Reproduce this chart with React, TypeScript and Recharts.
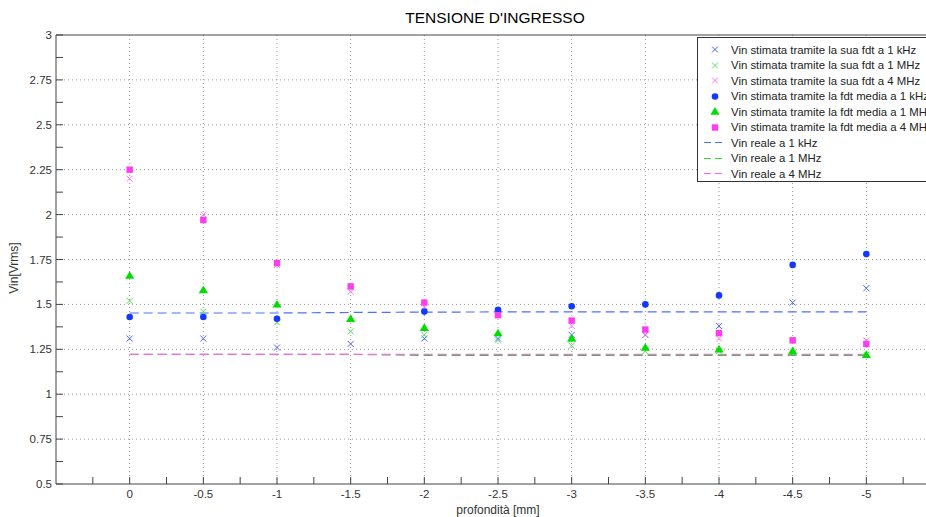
import React from 'react';
import { ComposedChart, Scatter, Line, XAxis, YAxis, CartesianGrid, Label } from 'recharts';

// profondità [mm]
const DEPTH = [0, -0.5, -1, -1.5, -2, -2.5, -3, -3.5, -4, -4.5, -5];

// Vin stimata tramite la sua fdt
const SUA_1K = [1.31, 1.31, 1.26, 1.28, 1.31, 1.31, 1.33, 1.33, 1.38, 1.51, 1.59];
const SUA_1M = [1.52, 1.46, 1.4, 1.35, 1.33, 1.3, 1.27, 1.24, 1.24, 1.23, 1.22];
const SUA_4M = [2.2, 2.0, 1.72, 1.57, 1.49, 1.45, 1.38, 1.33, 1.31, 1.3, 1.3];

// Vin stimata tramite la fdt media (no value at -1.5 for 1 kHz)
const MEDIA_1K = [1.43, 1.43, 1.42, null, 1.46, 1.47, 1.49, 1.5, 1.55, 1.72, 1.78];
const MEDIA_1M = [1.66, 1.58, 1.5, 1.42, 1.37, 1.34, 1.31, 1.26, 1.25, 1.24, 1.22];
const MEDIA_4M = [2.25, 1.97, 1.73, 1.6, 1.51, 1.44, 1.41, 1.36, 1.34, 1.3, 1.28];

// Vin reale
const REALE_1K = [1.452, 1.452, 1.452, 1.455, 1.457, 1.458, 1.458, 1.458, 1.458, 1.458, 1.458];
const REALE_1M = [1.222, 1.222, 1.222, 1.222, 1.216, 1.216, 1.216, 1.216, 1.216, 1.216, 1.216];
const REALE_4M = [1.222, 1.222, 1.222, 1.222, 1.222, 1.222, 1.222, 1.222, 1.222, 1.222, 1.222];

const X_TICKS = [0.25, 0, -0.25, -0.5, -0.75, -1, -1.25, -1.5, -1.75, -2, -2.25, -2.5, -2.75, -3, -3.25, -3.5, -3.75, -4, -4.25, -4.5, -4.75, -5, -5.25];
const X_GRID = [0, -0.5, -1, -1.5, -2, -2.5, -3, -3.5, -4, -4.5, -5];
const Y_TICKS = [0.5, 0.625, 0.75, 0.875, 1, 1.125, 1.25, 1.375, 1.5, 1.625, 1.75, 1.875, 2, 2.125, 2.25, 2.375, 2.5, 2.625, 2.75, 2.875, 3];
const Y_GRID = [0.75, 1, 1.25, 1.5, 1.75, 2, 2.25, 2.5, 2.75];

const BLUE = '#1438ff';
const GREEN = '#00dd00';
const PINK = '#ff3cf0';

const rows = DEPTH.map((d, i) => ({
  depth: d,
  sua1k: SUA_1K[i],
  sua1m: SUA_1M[i],
  sua4m: SUA_4M[i],
  media1k: MEDIA_1K[i],
  media1m: MEDIA_1M[i],
  media4m: MEDIA_4M[i],
  reale1k: REALE_1K[i],
  reale1m: REALE_1M[i],
  reale4m: REALE_4M[i],
}));

const FONT = '"Liberation Sans", Arial, sans-serif';

const onStep = (v: number, step: number) => Math.abs(v / step - Math.round(v / step)) < 1e-9;

const xMark = (color: string) => (p: any) => {
  const { cx, cy } = p;
  if (cx == null || cy == null) return null;
  const s = 3;
  return (
    <g stroke={color} strokeWidth={1}>
      <line x1={cx - s} y1={cy - s} x2={cx + s} y2={cy + s} />
      <line x1={cx - s} y1={cy + s} x2={cx + s} y2={cy - s} />
    </g>
  );
};

const dotMark = (p: any) =>
  p.cx == null ? null : <circle cx={p.cx} cy={p.cy} r={3.3} fill={BLUE} />;

const triMark = (p: any) =>
  p.cx == null ? null : (
    <polygon
      points={`${p.cx},${p.cy - 4.5} ${p.cx - 4.6},${p.cy + 3.2} ${p.cx + 4.6},${p.cy + 3.2}`}
      fill={GREEN}
    />
  );

const sqMark = (p: any) =>
  p.cx == null ? null : <rect x={p.cx - 3.2} y={p.cy - 3.2} width={6.4} height={6.4} fill={PINK} />;

const LEGEND = [
  { label: 'Vin stimata tramite la sua fdt a 1 kHz', kind: 'x', color: '#4a64ff' },
  { label: 'Vin stimata tramite la sua fdt a 1 MHz', kind: 'x', color: '#55e055' },
  { label: 'Vin stimata tramite la sua fdt a 4 MHz', kind: 'x', color: '#ff77f5' },
  { label: 'Vin stimata tramite la fdt media a 1 kHz', kind: 'dot', color: BLUE },
  { label: 'Vin stimata tramite la fdt media a 1 MHz', kind: 'tri', color: GREEN },
  { label: 'Vin stimata tramite la fdt media a 4 MHz', kind: 'sq', color: PINK },
  { label: 'Vin reale a 1 kHz', kind: 'line', color: '#4a70ff' },
  { label: 'Vin reale a 1 MHz', kind: 'line', color: '#33dd33' },
  { label: 'Vin reale a 4 MHz', kind: 'line', color: '#ff66ee' },
];

function LegendIcon({ kind, color }: { kind: string; color: string }) {
  return (
    <svg width={30} height={15} style={{ display: 'block' }}>
      {kind === 'x' && xMark(color)({ cx: 17, cy: 7.5 })}
      {kind === 'dot' && <circle cx={17} cy={7.5} r={3.3} fill={color} />}
      {kind === 'tri' && <polygon points="17,3 12.4,10.7 21.6,10.7" fill={color} />}
      {kind === 'sq' && <rect x={13.8} y={4.3} width={6.4} height={6.4} fill={color} />}
      {kind === 'line' && (
        <line x1={6} y1={7.5} x2={28} y2={7.5} stroke={color} strokeWidth={1} strokeDasharray="7 4" />
      )}
    </svg>
  );
}

export default function App() {
  const xTickFmt = (v: number) => (onStep(v, 0.5) ? String(v) : '');
  const yTickFmt = (v: number) => (onStep(v, 0.25) ? String(v) : '');
  const axisCommon = {
    type: 'number' as const,
    dataKey: 'depth',
    domain: [-5.5, 0.5],
    reversed: true,
    allowDataOverflow: true,
  };

  return (
    <div
      style={{
        position: 'absolute',
        left: 0,
        top: 0,
        width: 926,
        height: 517,
        overflow: 'hidden',
        background: '#fff',
        fontFamily: FONT,
      }}
    >
      <div
        style={{
          position: 'absolute',
          left: 0,
          width: 990,
          top: 9,
          textAlign: 'center',
          fontSize: 15.5,
          color: '#000',
        }}
      >
        TENSIONE D'INGRESSO
      </div>
      <div
        style={{
          position: 'absolute',
          left: 14,
          top: 268,
          transform: 'translate(-50%, -50%) rotate(-90deg)',
          fontSize: 12,
          color: '#333',
          whiteSpace: 'nowrap',
        }}
      >
        Vin[Vrms]
      </div>

      <ComposedChart
        width={950}
        height={517}
        data={rows}
        margin={{ top: 34, right: 10, bottom: 0, left: 0 }}
        style={{ fontFamily: FONT }}
      >
        <CartesianGrid
          xAxisId="b"
          yAxisId="l"
          stroke="#999"
          strokeDasharray="1 3"
          verticalValues={X_GRID}
          horizontalValues={Y_GRID}
        />
        <YAxis
          yAxisId="l"
          type="number"
          domain={[0.5, 3]}
          allowDataOverflow
          width={56}
          ticks={Y_TICKS}
          interval={0}
          tickFormatter={yTickFmt}
          tickSize={-7}
          tickMargin={11}
          stroke="#444"
          tick={{ fill: '#333', fontSize: 11.5 }}
        />
        <XAxis
          {...axisCommon}
          xAxisId="b"
          height={33}
          ticks={X_TICKS}
          interval={0}
          tickFormatter={xTickFmt}
          tickSize={-7}
          tickMargin={13}
          stroke="#444"
          tick={{ fill: '#333', fontSize: 11.5 }}
        >
          <Label value="profondità [mm]" position="insideBottom" offset={3} fill="#333" fontSize={12} />
        </XAxis>
        <XAxis
          {...axisCommon}
          xAxisId="t"
          orientation="top"
          height={1}
          ticks={X_TICKS}
          interval={0}
          tick={false}
          tickSize={-7}
          stroke="#444"
        />

        <Scatter xAxisId="b" yAxisId="l" dataKey="sua1k" shape={xMark('#4a64ff')} isAnimationActive={false} />
        <Scatter xAxisId="b" yAxisId="l" dataKey="sua1m" shape={xMark('#55e055')} isAnimationActive={false} />
        <Scatter xAxisId="b" yAxisId="l" dataKey="sua4m" shape={xMark('#ff77f5')} isAnimationActive={false} />
        <Scatter
          xAxisId="b"
          yAxisId="l"
          data={rows.filter((r) => r.media1k != null)}
          dataKey="media1k"
          shape={dotMark}
          isAnimationActive={false}
        />
        <Scatter xAxisId="b" yAxisId="l" dataKey="media1m" shape={triMark} isAnimationActive={false} />
        <Scatter xAxisId="b" yAxisId="l" dataKey="media4m" shape={sqMark} isAnimationActive={false} />

        <Line xAxisId="b" yAxisId="l" dataKey="reale1k" stroke="#4a70ff" strokeWidth={1.2} strokeDasharray="9 5" dot={false} activeDot={false} isAnimationActive={false} />
        <Line xAxisId="b" yAxisId="l" dataKey="reale1m" stroke="#33cc33" strokeWidth={1.2} strokeDasharray="9 5" dot={false} activeDot={false} isAnimationActive={false} />
        <Line xAxisId="b" yAxisId="l" dataKey="reale4m" stroke="#ff66ee" strokeWidth={1.2} strokeDasharray="9 5" dot={false} activeDot={false} isAnimationActive={false} />
      </ComposedChart>

      <div
        style={{
          position: 'absolute',
          left: 697,
          top: 37,
          width: 260,
          height: 145,
          border: '1px solid #333',
          background: '#fff',
          paddingTop: 4,
          boxSizing: 'border-box',
        }}
      >
        {LEGEND.map((item) => (
          <div key={item.label} style={{ display: 'flex', alignItems: 'center', height: 15.5 }}>
            <LegendIcon kind={item.kind} color={item.color} />
            <span style={{ fontSize: 11.4, color: '#222', marginLeft: 3, whiteSpace: 'nowrap' }}>{item.label}</span>
          </div>
        ))}
      </div>
    </div>
  );
}
